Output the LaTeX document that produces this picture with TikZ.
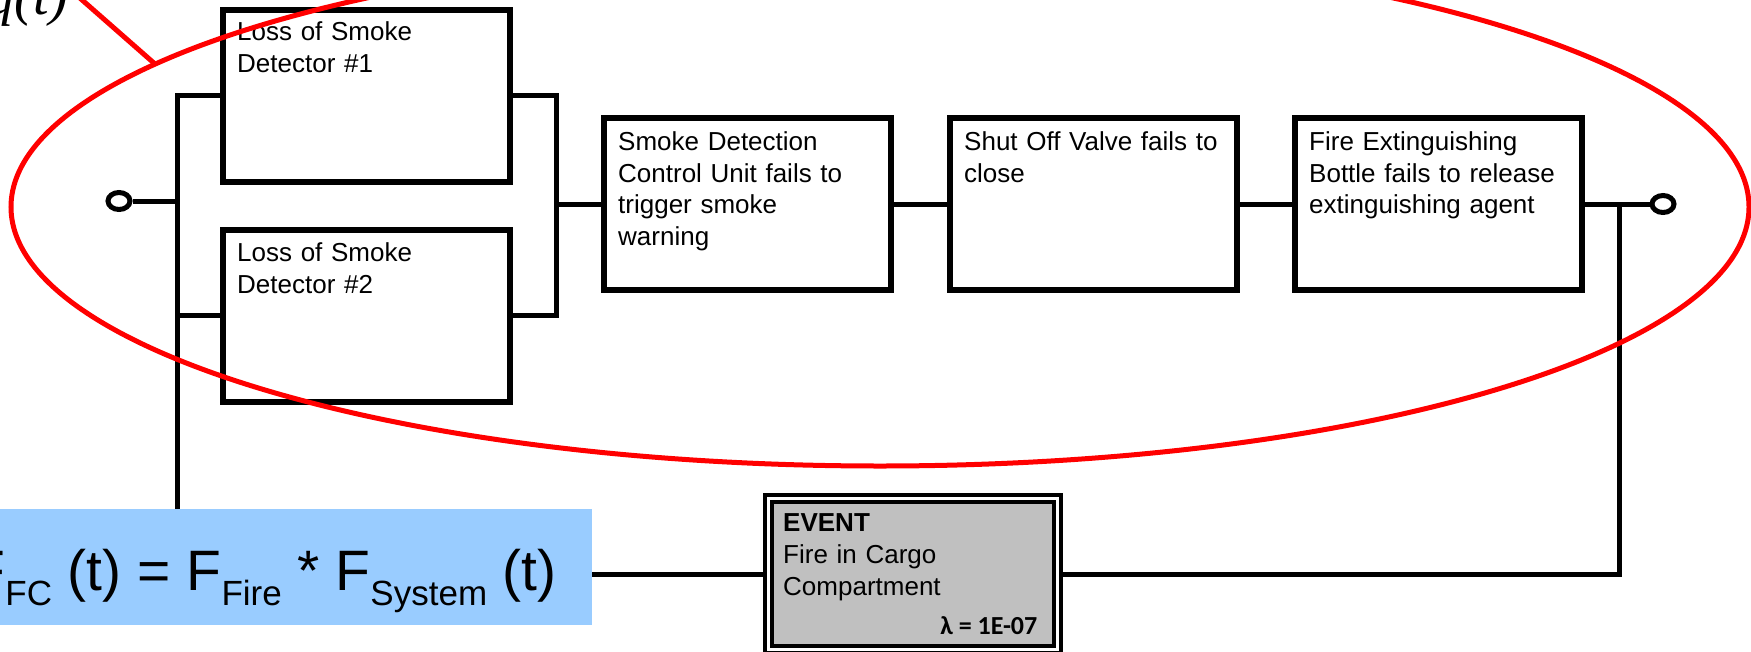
\documentclass[tikz,border=0pt]{standalone}
\usepackage{fontspec}
\setmainfont{Liberation Sans}
\newfontfamily\serifit{Liberation Serif}
\newfontfamily\calib{Carlito}
\usetikzlibrary{shapes.geometric,backgrounds}
\definecolor{fblue}{HTML}{99CCFF}
\definecolor{evgray}{HTML}{C0C0C0}
\definecolor{ovred}{HTML}{FF0000}
\newcommand\lowsub[1]{\raisebox{-14.3pt}{\fontsize{35}{35}\selectfont #1}}
\begin{document}
\begin{tikzpicture}[x=1pt,y=-1pt,
  blk/.style={draw, line width=6pt, fill=white, minimum width=287pt, minimum height=172pt, inner sep=0pt},
  lbl/.style={anchor=base west, inner sep=0pt, align=left, text width=300pt, font=\fontsize{26}{31.7}\selectfont},
  wire/.style={line width=5pt},
  term/.style={ellipse, draw, line width=5pt, fill=white, minimum width=22pt, minimum height=17pt, inner sep=0pt},
  redline/.style={draw=ovred, line width=5pt}]
\useasboundingbox (0,0) rectangle (1751,651);

% blocks
\node[blk] (b1) at (366.5,95.5) {};
\node[blk] (b2) at (366.5,315.5) {};
\node[blk] (b3) at (747,204) {};
\node[blk] (b4) at (1093,204) {};
\node[blk] (b5) at (1438,204) {};
\node[term] (in) at (119,201) {};
\node[term] (out) at (1663,204) {};

% event
\node[draw, double=white, line width=4pt, double distance=3pt, fill=evgray,
      minimum width=289pt, minimum height=151pt, inner sep=0pt] (ev) at (913,574) {};

% formula box
\node[fill=fblue, inner sep=0pt, minimum width=600pt, minimum height=116pt, anchor=north east] (fbox) at (592,509) {};
\node[anchor=base east, inner sep=0pt, font=\fontsize{57}{57}\selectfont] (fx) at (557,590.7)
  {F\lowsub{FC} (t) = F\lowsub{Fire} * F\lowsub{System} (t)};

% labels
\node[lbl] (t1) at (237,40.7) {Loss of Smoke\\Detector \#1};
\node[lbl] (t2) at (237,261.7) {Loss of Smoke\\Detector \#2};
\node[lbl] (t3) at (618,150.5) {Smoke Detection\\Control Unit fails to\\trigger smoke\\warning};
\node[lbl] (t4) at (964,150.5) {Shut Off Valve fails to\\close};
\node[lbl] (t5) at (1309,150.5) {Fire Extinguishing\\Bottle fails to release\\extinguishing agent};
\node[anchor=base west, inner sep=0pt, font=\bfseries\fontsize{26}{26}\selectfont] (evt) at (783,531.7) {EVENT};
\node[lbl] (evl) at (783,563.3) {Fire in Cargo\\Compartment};
\node[anchor=base east, inner sep=0pt, font=\calib\bfseries\fontsize{26}{26}\selectfont] (lam) at (1037.5,634) {λ = 1E-07};

% connectors
\coordinate (lb) at (177,574);
\coordinate (rb) at (556,204);
\coordinate (dr) at (1619,204);
\begin{scope}[on background layer]
  \draw[wire] (b1.west) -| (lb) -- (ev.west);
  \draw[wire] (b2.west) -- (b2.west -| lb);
  \draw[wire] (in.east) -- (in.east -| lb);
  \draw[wire] (b1.east) -| (rb);
  \draw[wire] (b2.east) -| (rb);
  \draw[wire] (rb) -- (b3.west);
  \draw[wire] (b3.east) -- (b4.west);
  \draw[wire] (b4.east) -- (b5.west);
  \draw[wire] (b5.east) -- (out.west);
  \draw[wire] (dr) |- (ev.east);
\end{scope}

% red ellipse and leader
\draw[redline] (880,207) ellipse [x radius=869pt, y radius=259pt];
\coordinate (lp) at (155,64);
\coordinate (lq) at (40,-37);
\draw[redline] (lp) -- (lq);
\node[anchor=base east, inner sep=0pt, font=\serifit\itshape\fontsize{56}{56}\selectfont] (qt) at (68,14) {q(t)};
\end{tikzpicture}
\end{document}
